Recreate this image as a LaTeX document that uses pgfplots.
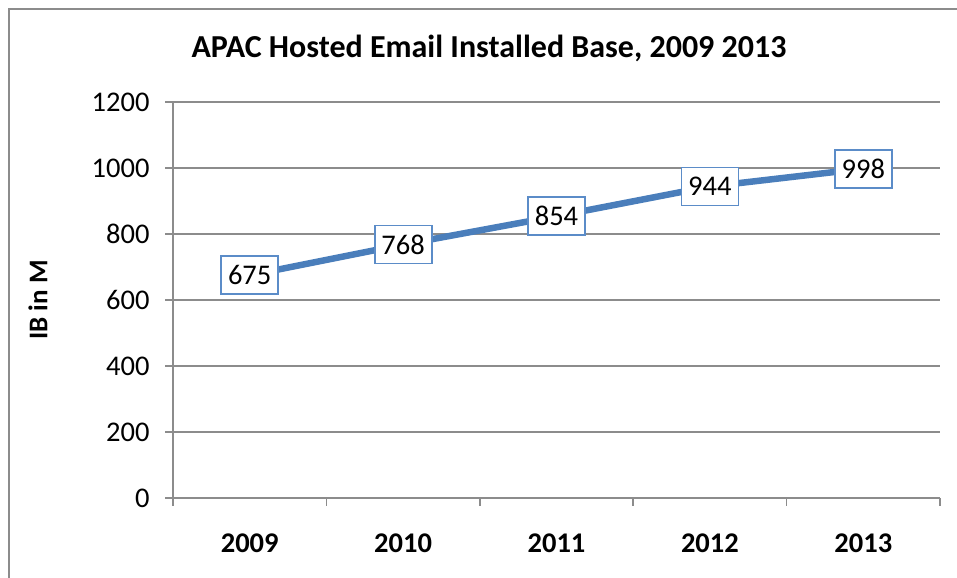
\documentclass[border=0pt]{standalone}
\usepackage{pgfplots}
\pgfplotsset{compat=1.18}
\usepackage{fontspec}
\setmainfont{Carlito}
\definecolor{serie}{HTML}{4A7EBB}
\definecolor{boxc}{HTML}{5B8CC8}
\definecolor{gridc}{HTML}{8C8C8C}
\begin{document}
\begin{tikzpicture}[x=1bp,y=1bp]
\useasboundingbox (0,0) rectangle (957,578);
\begin{scope}
\clip (0,0) rectangle (957,578);
\draw[gridc, line width=2bp] (9,-20) rectangle (990,569);
\end{scope}
\node[font=\bfseries\fontsize{32bp}{36bp}\selectfont] at (489,530) {APAC Hosted Email Installed Base, 2009 2013};
\begin{axis}[
  at={(173bp,80bp)}, anchor=south west,
  scale only axis, width=767bp, height=396bp,
  xmin=-0.5, xmax=4.5, ymin=0, ymax=1200,
  axis x line*=bottom, axis y line*=left,
  axis line style={-, gridc, line width=1.5bp},
  tick style={gridc, line width=1.5bp},
  tick align=outside, major tick length=8bp,
  xtick={-0.5,0.5,1.5,2.5,3.5,4.5}, xticklabels={},
  extra x ticks={0,1,2,3,4},
  extra x tick labels={2009,2010,2011,2012,2013},
  extra x tick style={major tick length=0bp, grid=none,
     tick label style={font=\bfseries\fontsize{28.5bp}{30bp}\selectfont, yshift=-32bp}},
  ytick={0,200,...,1200},
  ymajorgrids, grid style={gridc, line width=1.5bp},
  yticklabel style={font=\fontsize{28.5bp}{30bp}\selectfont, xshift=-12bp},
  /pgf/number format/assume math mode=true,
  /pgf/number format/set thousands separator={},
  every axis y label/.style={at={(-135bp,198bp)}, rotate=90, anchor=center,
     font=\bfseries\fontsize{27bp}{30bp}\selectfont},
  ylabel={IB in M},
  clip=false,
  nodes near coords,
  every node near coord/.append style={anchor=center, draw=boxc, fill=white,
     line width=1.8bp, font=\fontsize{28.5bp}{30bp}\selectfont,
     minimum width=57bp, minimum height=38bp, inner sep=0pt, text=black},
]
\addplot[serie, line width=6.5bp] coordinates {(0,675) (1,768) (2,854) (3,944) (4,998)};
\end{axis}
\end{tikzpicture}
\end{document}
